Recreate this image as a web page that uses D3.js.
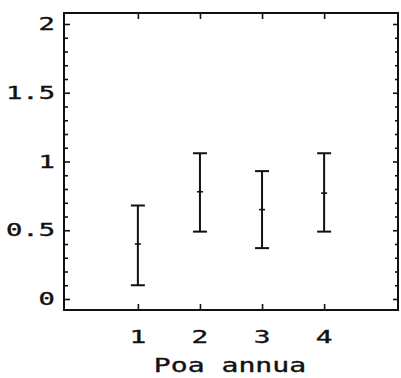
<!DOCTYPE html>
<html>
<head>
<meta charset="utf-8">
<script src="https://cdn.jsdelivr.net/npm/d3@7"></script>
<style>
  html, body { margin: 0; padding: 0; background: #fff; }
  svg { display: block; }
  text { font-family: "DejaVu Sans Mono", monospace; fill: #111; stroke: #111; stroke-width: 0.35; }
</style>
</head>
<body>
<div id="chart"></div>
<script>
// Group means with interval bounds
const groups = [1, 2, 3, 4];
const means  = [0.40, 0.78, 0.65, 0.77];
const lower  = [0.10, 0.49, 0.37, 0.49];
const upper  = [0.68, 1.06, 0.93, 1.06];
const yMajorTicks = [0, 0.5, 1, 1.5, 2];
const yTickLabels = ["0", "0.5", "1", "1.5", "2"];
const xTickLabels = ["1", "2", "3", "4"];
const xTitle = "Poa annua";

const W = 401, H = 378;
const frame = { left: 64, right: 398, top: 13, bottom: 310 };

const svg = d3.select("#chart").append("svg")
  .attr("width", W).attr("height", H);

const x = d3.scaleLinear().domain([-0.19, 5.19]).range([frame.left, frame.right]);
const y = d3.scaleLinear().domain([-0.08, 2.08]).range([frame.bottom, frame.top]);

const ink = "#111";

// Minor ticks every 0.1 on both vertical sides
const yMinor = d3.range(0, 21).map(i => i / 10).filter(v => !yMajorTicks.some(m => Math.abs(m - v) < 1e-9));

const axisLeftMajor = d3.axisRight(y).tickValues(yMajorTicks).tickSize(6).tickFormat("");
const axisLeftMinor = d3.axisRight(y).tickValues(yMinor).tickSize(4).tickFormat("");
const axisRightMajor = d3.axisLeft(y).tickValues(yMajorTicks).tickSize(5).tickFormat("");
const axisRightMinor = d3.axisLeft(y).tickValues(yMinor).tickSize(3).tickFormat("");
const axisBottom = d3.axisTop(x).tickValues(groups).tickSize(6).tickFormat("");
const axisTop = d3.axisBottom(x).tickValues(groups).tickSize(6).tickFormat("");

function styleAxis(g) {
  g.select(".domain").remove();
  g.selectAll(".tick line").attr("stroke", ink).attr("stroke-width", 1.6);
}

svg.append("g").attr("transform", `translate(${frame.left},0)`).call(axisLeftMajor).call(styleAxis);
svg.append("g").attr("transform", `translate(${frame.left},0)`).call(axisLeftMinor).call(styleAxis);
svg.append("g").attr("transform", `translate(${frame.right},0)`).call(axisRightMajor).call(styleAxis);
svg.append("g").attr("transform", `translate(${frame.right},0)`).call(axisRightMinor).call(styleAxis);
svg.append("g").attr("transform", `translate(0,${frame.bottom})`).call(axisBottom).call(styleAxis);
svg.append("g").attr("transform", `translate(0,${frame.top})`).call(axisTop).call(styleAxis);

// Plot frame
svg.append("rect")
  .attr("x", frame.left).attr("y", frame.top)
  .attr("width", frame.right - frame.left).attr("height", frame.bottom - frame.top)
  .attr("fill", "none").attr("stroke", ink).attr("stroke-width", 2);

// Y tick labels (wide plotter-style lettering)
svg.append("g").selectAll("text")
  .data(yMajorTicks)
  .join("text")
  .attr("transform", d => `translate(55,${y(d) + 6}) scale(1.6,1)`)
  .attr("text-anchor", "end")
  .attr("font-size", 17)
  .text((d, i) => yTickLabels[i]);

// X tick labels
svg.append("g").selectAll("text")
  .data(groups)
  .join("text")
  .attr("transform", d => `translate(${x(d)},343) scale(1.55,1)`)
  .attr("text-anchor", "middle")
  .attr("font-size", 18)
  .text((d, i) => xTickLabels[i]);

// X axis title
svg.append("text")
  .attr("transform", `translate(${(frame.left + frame.right) / 2 - 1},372) scale(1.48,1)`)
  .attr("text-anchor", "middle")
  .attr("font-size", 19)
  .text(xTitle);

// Error bars
const bars = svg.append("g").selectAll("g")
  .data(groups.map((g, i) => ({ g, m: means[i], lo: lower[i], hi: upper[i] })))
  .join("g")
  .attr("stroke", ink)
  .attr("stroke-width", 2);

bars.append("line")
  .attr("x1", d => x(d.g)).attr("x2", d => x(d.g))
  .attr("y1", d => y(d.lo)).attr("y2", d => y(d.hi));
bars.append("line")
  .attr("x1", d => x(d.g) - 7).attr("x2", d => x(d.g) + 7)
  .attr("y1", d => y(d.hi)).attr("y2", d => y(d.hi));
bars.append("line")
  .attr("x1", d => x(d.g) - 7).attr("x2", d => x(d.g) + 7)
  .attr("y1", d => y(d.lo)).attr("y2", d => y(d.lo));
bars.append("line")
  .attr("stroke-width", 1.6)
  .attr("x1", d => x(d.g) - 3).attr("x2", d => x(d.g) + 3)
  .attr("y1", d => y(d.m)).attr("y2", d => y(d.m));
</script>
</body>
</html>
